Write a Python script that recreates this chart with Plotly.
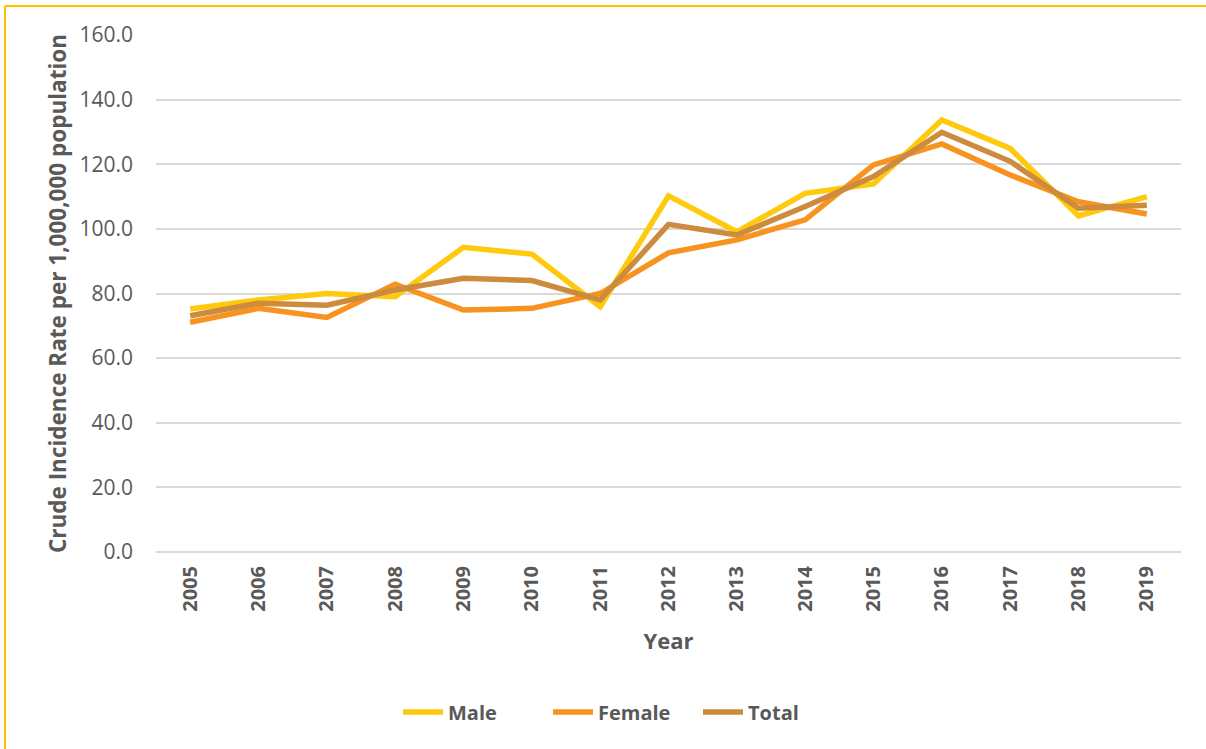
"""Crude incidence rate chart, 2005-2019."""

import plotly.graph_objects as go

years = ["2005", "2006", "2007", "2008", "2009", "2010", "2011", "2012",
         "2013", "2014", "2015", "2016", "2017", "2018", "2019"]
male = [75.2, 78.0, 80.0, 79.0, 94.3, 92.2, 75.9, 110.2,
        99.1, 111.0, 113.9, 133.7, 124.9, 104.0, 110.0]
female = [71.1, 75.4, 72.6, 82.9, 74.9, 75.4, 80.0, 92.6,
          96.6, 102.8, 119.8, 126.3, 116.7, 108.4, 104.6]
total = [73.1, 77.0, 76.4, 81.1, 84.7, 84.0, 78.0, 101.4,
         98.1, 106.9, 116.2, 129.9, 120.9, 106.4, 107.3]
y_ticks = [0, 20, 40, 60, 80, 100, 120, 140, 160]

FONT = "Open Sans"
GREY = "#595959"
SERIES = [("Male", male, "#FFC90E"),
          ("Female", female, "#F7931E"),
          ("Total", total, "#CD8B3D")]

fig = go.Figure()
for name, vals, color in SERIES:
    fig.add_trace(go.Scatter(x=years, y=vals, name=name, mode="lines",
                             line=dict(color=color, width=5.5)))

W, H = 1206, 749
L, R, T, B = 156, 25, 35, 197
pw, ph = W - L - R, H - T - B

fig.update_layout(
    width=W, height=H, template="plotly_white",
    paper_bgcolor="white", plot_bgcolor="white",
    margin=dict(l=L, r=R, t=T, b=B),
    font=dict(family=FONT, color=GREY),
    showlegend=True,
    legend=dict(orientation="h", x=(398 - L) / pw, xanchor="left",
                y=(H - B - 712) / ph, yanchor="middle",
                font=dict(size=20, color=GREY, family=FONT, weight="bold"),
                entrywidth=95, itemwidth=40, tracegroupgap=0),
    xaxis=dict(type="category", range=[-0.5, 14.5], showgrid=False,
               showline=False, ticks="", tickangle=-90,
               ticklabelstandoff=9,
               tickfont=dict(size=20, color=GREY, weight="bold"),
               title=dict(text="Year", standoff=22,
                          font=dict(size=22, color=GREY, weight="bold"))),
    yaxis=dict(range=[0, 160], tickvals=y_ticks, tickformat=".1f",
               showgrid=True, gridcolor="#D9D9D9", gridwidth=1.5,
               zeroline=True, zerolinecolor="#D9D9D9", zerolinewidth=1.5,
               showline=False, ticks="", ticklabelstandoff=22,
               tickfont=dict(size=21, color=GREY),
               title=dict(text="Crude Incidence Rate per 1,000,000 population",
                          standoff=6,
                          font=dict(size=22.5, color=GREY, weight="bold"))),
    shapes=[
        dict(type="line", xref="paper", yref="paper",
             x0=(5 - L) / pw, x1=(W + 5 - L) / pw,
             y0=(H - B - 6) / ph, y1=(H - B - 6) / ph,
             line=dict(color="#FFC000", width=2)),
        dict(type="line", xref="paper", yref="paper",
             x0=(5 - L) / pw, x1=(5 - L) / pw,
             y0=(H - B - 6) / ph, y1=(H - B - H - 5) / ph,
             line=dict(color="#FFC000", width=2)),
    ],
)

fig.write_html("out.html", config={"displayModeBar": False},
               post_script="document.body.style.margin='0';")
